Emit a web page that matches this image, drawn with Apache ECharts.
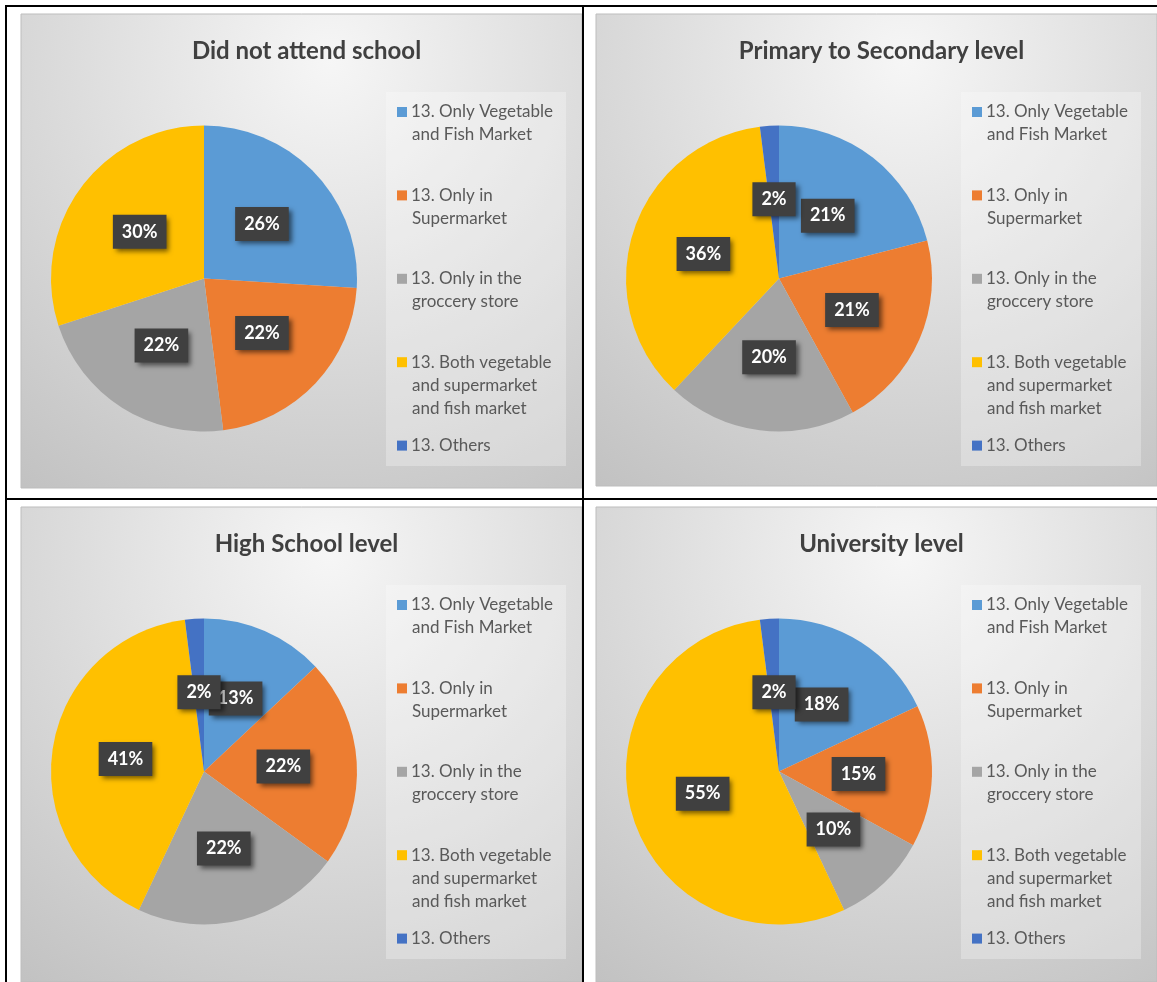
<!DOCTYPE html>
<html>
<head>
<meta charset="utf-8">
<script src="https://cdn.jsdelivr.net/npm/echarts@6/dist/echarts.min.js"></script>
<style>
html,body{margin:0;padding:0;background:#fff;}
#c{width:1157px;height:982px;}
</style>
</head>
<body>
<div id="c"></div>
<script>
// ---- data ----
const categories = [
  '13. Only Vegetable and Fish Market',
  '13. Only in Supermarket',
  '13. Only in the groccery store',
  '13. Both vegetable and supermarket and fish market',
  '13. Others'
];
const legendLabels = [
  '13. Only Vegetable\nand Fish Market',
  '13. Only in\nSupermarket',
  '13. Only in the\ngroccery store',
  '13. Both vegetable\nand supermarket\nand fish market',
  '13. Others'
];
const titles = ['Did not attend school', 'Primary to Secondary level', 'High School level', 'University level'];
const didNotAttend     = [26, 22, 22, 30, 0];
const primarySecondary = [21, 21, 20, 36, 2];
const highSchool       = [13, 22, 22, 41, 2];
const university       = [18, 15, 10, 55, 2];
const seriesValues = [didNotAttend, primarySecondary, highSchool, university];

// ---- styles ----
const colors = ['#5B9BD5', '#ED7D31', '#A5A5A5', '#FFC000', '#4472C4'];
const FONT = 'Lato, "Open Sans", sans-serif';
const panels = [{x:21,y:14,h:474},{x:596,y:14,h:472},{x:21,y:507,h:475},{x:596,y:507,h:475}];
const PW = 561;

const chart = echarts.init(document.getElementById('c'), null, {renderer:'canvas'});

const rich = {
  g: {width: 4},
  ind: {width: 15},
  t: {fontSize: 17, color: '#595959', fontFamily: FONT, lineHeight: 23}
};
colors.forEach((c, i) => { rich['c' + i] = {width: 10, height: 10, backgroundColor: c}; });

function legendFormatter(name) {
  const i = categories.indexOf(name);
  const lines = legendLabels[i].split('\n');
  const out = lines.map((l, k) => (k === 0 ? '{c' + i + '|}{g|}' : '{ind|}') + '{t|' + l + '}');
  if (i < categories.length - 1) { while (out.length < 3) out.push('{t| }'); }
  return out.join('\n');
}

const graphics = [];
panels.forEach(p => {
  graphics.push({
    type: 'rect', z: -20, silent: true,
    shape: {x: p.x, y: p.y, width: PW, height: p.h},
    style: {
      fill: {type: 'radial', x: 0.55, y: 0.1, r: 1.1, colorStops: [
        {offset: 0, color: '#f6f6f6'}, {offset: 1, color: '#c2c2c2'}]},
      stroke: '#bdbdbd', lineWidth: 1
    }
  });
  graphics.push({
    type: 'rect', z: -19, silent: true,
    shape: {x: p.x + 365, y: p.y + 78, width: 180, height: 374},
    style: {fill: 'rgba(255,255,255,0.28)'}
  });
});
// table borders
const lineStyle = {stroke: '#000', lineWidth: 2};
graphics.push({type:'line', z: 50, silent:true, shape:{x1:5, y1:6, x2:1157, y2:6}, style: lineStyle});
graphics.push({type:'line', z: 50, silent:true, shape:{x1:6, y1:5, x2:6, y2:982}, style: lineStyle});
graphics.push({type:'line', z: 50, silent:true, shape:{x1:583, y1:5, x2:583, y2:982}, style: lineStyle});
graphics.push({type:'line', z: 50, silent:true, shape:{x1:5, y1:499, x2:1157, y2:499}, style: lineStyle});

const option = {
  animation: false,
  color: colors,
  graphic: graphics,
  title: panels.map((p, i) => ({
    text: titles[i],
    left: p.x + 280.5,
    top: p.y + 20,
    textAlign: 'center',
    textStyle: {fontFamily: FONT, fontWeight: 'bold', fontSize: 24, color: '#404040'}
  })),
  legend: panels.map(p => ({
    data: categories,
    orient: 'vertical',
    left: p.x + 371,
    top: p.y + 89.5,
    padding: 0,
    itemWidth: 0,
    itemHeight: 0,
    itemGap: 20.4,
    selectedMode: false,
    formatter: legendFormatter,
    textStyle: {rich: rich}
  })),
  series: panels.map((p, i) => ({
    type: 'pie',
    center: [p.x + 183, p.y + 264.5],
    radius: 153,
    startAngle: 90,
    clockwise: true,
    avoidLabelOverlap: false,
    labelLayout: {hideOverlap: false},
    minShowLabelAngle: 0,
    itemStyle: {borderWidth: 0},
    emphasis: {disabled: true},
    labelLine: {show: false},
    label: {
      show: true,
      position: 'inside',
      formatter: '{c}%',
      color: '#ffffff',
      fontFamily: FONT,
      fontWeight: 'bold',
      fontSize: 18,
      lineHeight: 22,
      backgroundColor: '#404040',
      padding: [6, 9],
      shadowBlur: 5,
      shadowColor: 'rgba(0,0,0,0.55)',
      shadowOffsetX: 3,
      shadowOffsetY: 3
    },
    data: categories.map((name, k) => ({
      name: name,
      value: seriesValues[i][k],
      label: {show: seriesValues[i][k] > 0}
    }))
  }))
};
chart.setOption(option);
</script>
</body>
</html>
